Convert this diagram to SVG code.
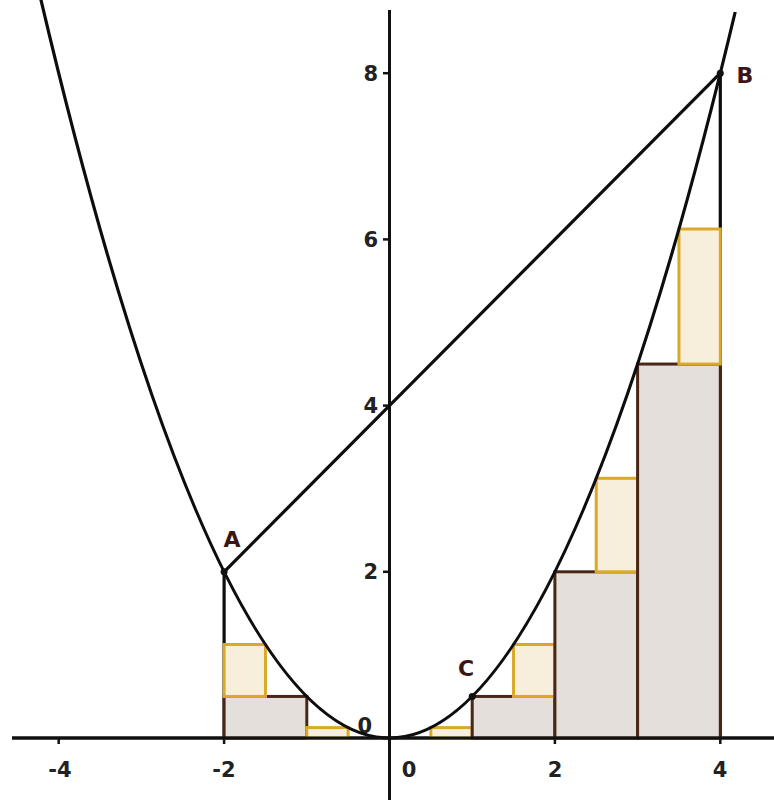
<svg xmlns="http://www.w3.org/2000/svg" width="774" height="802" viewBox="0 0 774 802">
<style>
.ax{stroke:#111;stroke-width:3;fill:none}
.tk{stroke:#111;stroke-width:2.5}
.gr{fill:#e4dfda;stroke:#4a2616;stroke-width:3}
.ye{fill:#f7efdc;stroke:#dba928;stroke-width:3}
.cv{stroke:#0d0d0d;stroke-width:3.2;fill:none}
.lb{font-family:"DejaVu Sans","Noto Sans",sans-serif;font-weight:bold;font-size:21px;fill:#222}
.pt{font-family:"DejaVu Sans","Noto Sans",sans-serif;font-weight:bold;font-size:22px;fill:#3a1616}
</style>
<rect width="774" height="802" fill="#fff"/>
<g id="axes">
<line class="ax" x1="12" y1="738" x2="774" y2="738"/>
<line class="ax" x1="389.5" y1="10" x2="389.5" y2="800"/>
<line class="tk" x1="58.7" y1="738" x2="58.7" y2="744"/>
<line class="tk" x1="224.1" y1="738" x2="224.1" y2="744"/>
<line class="tk" x1="554.9" y1="738" x2="554.9" y2="744"/>
<line class="tk" x1="720.3" y1="738" x2="720.3" y2="744"/>
<line class="tk" x1="383" y1="73.2" x2="389.5" y2="73.2"/>
<line class="tk" x1="383" y1="239.4" x2="389.5" y2="239.4"/>
<line class="tk" x1="383" y1="405.6" x2="389.5" y2="405.6"/>
<line class="tk" x1="383" y1="571.8" x2="389.5" y2="571.8"/>
<text class="lb" x="60" y="777" text-anchor="middle">-4</text>
<text class="lb" x="224" y="777" text-anchor="middle">-2</text>
<text class="lb" x="409" y="777" text-anchor="middle">0</text>
<text class="lb" x="555" y="777" text-anchor="middle">2</text>
<text class="lb" x="720" y="777" text-anchor="middle">4</text>
<text class="lb" x="378" y="81" text-anchor="end">8</text>
<text class="lb" x="378" y="247" text-anchor="end">6</text>
<text class="lb" x="378" y="413" text-anchor="end">4</text>
<text class="lb" x="378" y="579" text-anchor="end">2</text>
<text class="lb" x="372" y="733" text-anchor="end">0</text>
</g>
<g id="connectors">
<line class="cv" x1="224.1" y1="571.8" x2="224.1" y2="738"/>
<line class="cv" x1="720.3" y1="73.2" x2="720.3" y2="738"/>
</g>
<g id="rectangles">
<rect id="g1" class="gr" x="224.1" y="696.45" width="82.7" height="41.55"/>
<rect id="y1" class="ye" x="224.1" y="644.5" width="41.35" height="51.95"/>
<rect id="y2" class="ye" x="306.8" y="727.6" width="41.35" height="10.4"/>
<rect id="y3" class="ye" x="430.85" y="727.6" width="41.35" height="10.4"/>
<rect id="g2" class="gr" x="472.2" y="696.45" width="82.7" height="41.55"/>
<rect id="y4" class="ye" x="513.55" y="644.5" width="41.35" height="51.95"/>
<rect id="g3" class="gr" x="554.9" y="571.8" width="82.7" height="166.2"/>
<rect id="y5" class="ye" x="596.25" y="478.3" width="41.35" height="93.5"/>
<rect id="g4" class="gr" x="637.6" y="364.05" width="82.7" height="373.95"/>
<rect id="y6" class="ye" x="678.95" y="229" width="41.35" height="135.05"/>
</g>
<g id="curves">
<path id="parabola" class="cv" d="M33.9,-30.3 Q384.5,1484.8 735.2,12"/>
<line id="chord" class="cv" x1="224.1" y1="571.8" x2="720.3" y2="73.2"/>
<line class="ax" x1="12" y1="738" x2="774" y2="738"/>
</g>
<g id="A"><circle cx="224.1" cy="571.8" r="3.5" fill="#111"/><text class="pt" x="232" y="547" text-anchor="middle">A</text></g>
<g id="B"><circle cx="720.3" cy="73.2" r="3.5" fill="#111"/><text class="pt" x="745" y="83" text-anchor="middle">B</text></g>
<g id="C"><circle cx="472.2" cy="696.45" r="3.5" fill="#111"/><text class="pt" x="466" y="676" text-anchor="middle">C</text></g>
</svg>
